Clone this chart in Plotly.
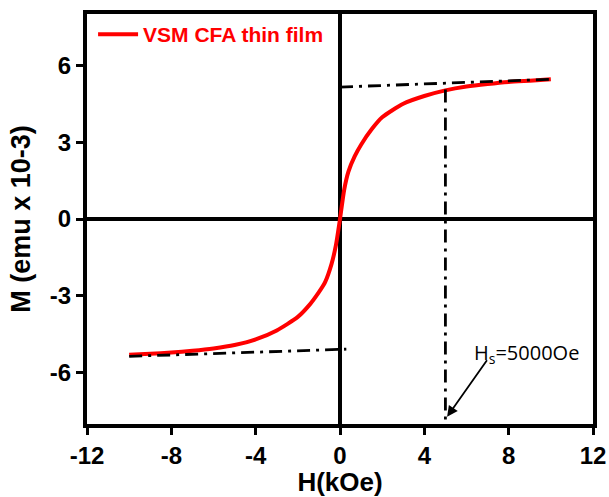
import plotly.graph_objects as go

# Magnetization curve
H_kOe = [-10, -9, -8, -7, -6, -5, -4, -3, -2, -1.5, -1, -0.7, -0.4, -0.2, 0,
         0.2, 0.4, 0.7, 1, 1.5, 2, 3, 4, 5, 6, 7, 8, 9, 10]
M_emu = [-5.30, -5.26, -5.21, -5.14, -5.05, -4.92, -4.70, -4.35, -3.82, -3.40, -2.85, -2.45, -1.75, -1.05, 0.0,
         1.15, 1.85, 2.45, 2.90, 3.50, 3.97, 4.50, 4.80, 5.02, 5.17, 5.27, 5.35, 5.40, 5.45]

# Guide lines (dash-dot)
upper_guide_H = [0, 10]
upper_guide_M = [5.15, 5.45]
lower_guide_H = [-10, 0.3]
lower_guide_M = [-5.36, -5.08]
hs_guide_H = [5, 5]
hs_guide_M = [5.05, -8]

# Annotation
hs_label = "H<sub>s</sub>=5000Oe"
hs_text_pos = (8.85, -5.25)
hs_arrow_head = (5.08, -7.72)
hs_arrow_tail = (7.02, -5.45)

x_ticks = [-12, -8, -4, 0, 4, 8, 12]
y_ticks = [-6, -3, 0, 3, 6]

font_main = "Liberation Sans, Arial, sans-serif"

fig = go.Figure()

fig.add_trace(go.Scatter(
    x=H_kOe, y=M_emu, mode="lines", name="VSM CFA thin film",
    line=dict(color="#ff0000", width=4, shape="spline", smoothing=0.6),
))

for gx, gy in [(upper_guide_H, upper_guide_M), (lower_guide_H, lower_guide_M), (hs_guide_H, hs_guide_M)]:
    fig.add_trace(go.Scatter(
        x=gx, y=gy, mode="lines", showlegend=False, hoverinfo="skip",
        line=dict(color="black", width=2.8, dash="13px,6px,3px,6px"),
    ))

fig.add_annotation(
    x=hs_text_pos[0], y=hs_text_pos[1], text=hs_label, showarrow=False,
    font=dict(family="Open Sans, Noto Sans, sans-serif", size=20, color="black"),
)
fig.add_annotation(
    x=hs_arrow_head[0], y=hs_arrow_head[1], ax=hs_arrow_tail[0], ay=hs_arrow_tail[1],
    axref="x", ayref="y", xref="x", yref="y", text="", showarrow=True,
    arrowhead=2, arrowsize=1.2, arrowwidth=1.8, arrowcolor="black",
)

axis_common = dict(
    showline=True, linewidth=4, linecolor="black", mirror=True,
    ticks="outside", ticklen=7, tickwidth=3, tickcolor="black",
    showgrid=False, zeroline=True, zerolinewidth=3.5, zerolinecolor="black",
    tickfont=dict(family=font_main, size=24, color="black", weight="bold"),
    automargin=False,
)

fig.update_xaxes(
    range=[-12, 12], tickvals=x_ticks, ticktext=[str(v) for v in x_ticks],
    title=dict(text="H(kOe)", font=dict(family=font_main, size=26, color="black", weight="bold"), standoff=8),
    **axis_common,
)
fig.update_yaxes(
    range=[-8, 8], tickvals=y_ticks, ticktext=[str(v) for v in y_ticks],
    title=dict(text="M (emu x 10-3)", font=dict(family=font_main, size=27, color="black", weight="bold"), standoff=12),
    **axis_common,
)

fig.update_layout(
    width=609, height=497,
    margin=dict(l=87, r=16, t=14, b=73),
    plot_bgcolor="white", paper_bgcolor="white",
    showlegend=True,
    legend=dict(
        x=0.012, y=1.0, xanchor="left", yanchor="top",
        bgcolor="rgba(0,0,0,0)", borderwidth=0,
        font=dict(family=font_main, size=21, color="#ff0000", weight="bold"),
        itemwidth=40,
    ),
)

fig.write_html(
    "out.html",
    config={"displayModeBar": False},
    post_script="document.body.style.margin='0px';document.body.style.overflow='hidden';",
)
